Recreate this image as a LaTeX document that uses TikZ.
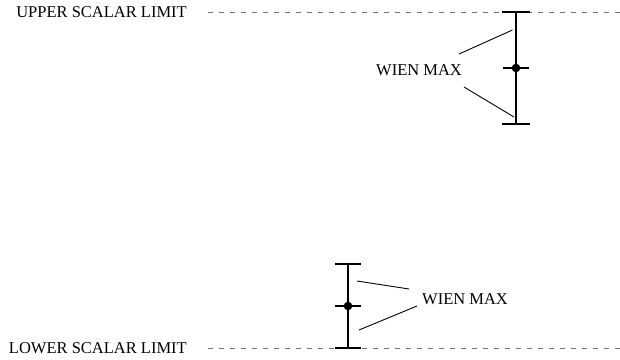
\documentclass[tikz,border=0pt]{standalone}
\usepackage{fontspec}
\setmainfont{Liberation Serif}
\begin{document}
\begin{tikzpicture}[x=1pt,y=-1pt,
  lbl/.style={inner sep=0pt,font=\fontsize{16.5}{18}\selectfont},
  limitline/.style={draw=black!55,line width=1pt,dash pattern=on 5pt off 6pt},
  bar/.style={line width=1.3pt},
  capline/.style={line width=2pt},
  leader/.style={line width=0.9pt}]
\useasboundingbox (0,0) rectangle (620,359);
% limits
\node[lbl,anchor=base east] (upper) at (187,17.5) {UPPER SCALAR LIMIT};
\node[lbl,anchor=base east] (lower) at (187,353.5) {LOWER SCALAR LIMIT};
\coordinate (uS) at (208,12);
\coordinate (uE) at (620,12);
\coordinate (lS) at (208,348);
\coordinate (lE) at (620,348);
\draw[limitline] (uS) -- (uE);
\draw[limitline] (lS) -- (lE);
% upper error bar
\coordinate (ut) at (516,12);
\coordinate (um) at (516,68);
\coordinate (ub) at (516,124);
\draw[bar] (ut) -- (ub);
\draw[capline] ([xshift=-14]ut) -- ([xshift=14]ut);
\draw[bar] ([xshift=-13]um) -- ([xshift=13]um);
\draw[capline] ([xshift=-14]ub) -- ([xshift=14]ub);
\fill (um) circle (4.3);
\node[lbl,anchor=base west] (w1) at (376,75.5) {WIEN MAX};
\coordinate (a1) at (512.5,30);
\coordinate (a2) at (459,54);
\coordinate (a3) at (464,87);
\coordinate (a4) at (514,117);
\draw[leader] (a1) -- (a2);
\draw[leader] (a3) -- (a4);
% lower error bar
\coordinate (lt) at (348,264);
\coordinate (lm) at (348,306);
\coordinate (lb) at (348,348);
\draw[bar] (lt) -- (lb);
\draw[bar] ([xshift=-13]lt) -- ([xshift=13]lt);
\draw[bar] ([xshift=-13]lm) -- ([xshift=13]lm);
\draw[capline] ([xshift=-13]lb) -- ([xshift=13]lb);
\fill (lm) circle (4.3);
\node[lbl,anchor=base west] (w2) at (422,304.5) {WIEN MAX};
\coordinate (b1) at (357,281);
\coordinate (b2) at (409,289);
\coordinate (b3) at (359,330);
\coordinate (b4) at (417,306);
\draw[leader] (b1) -- (b2);
\draw[leader] (b3) -- (b4);
\end{tikzpicture}
\end{document}
